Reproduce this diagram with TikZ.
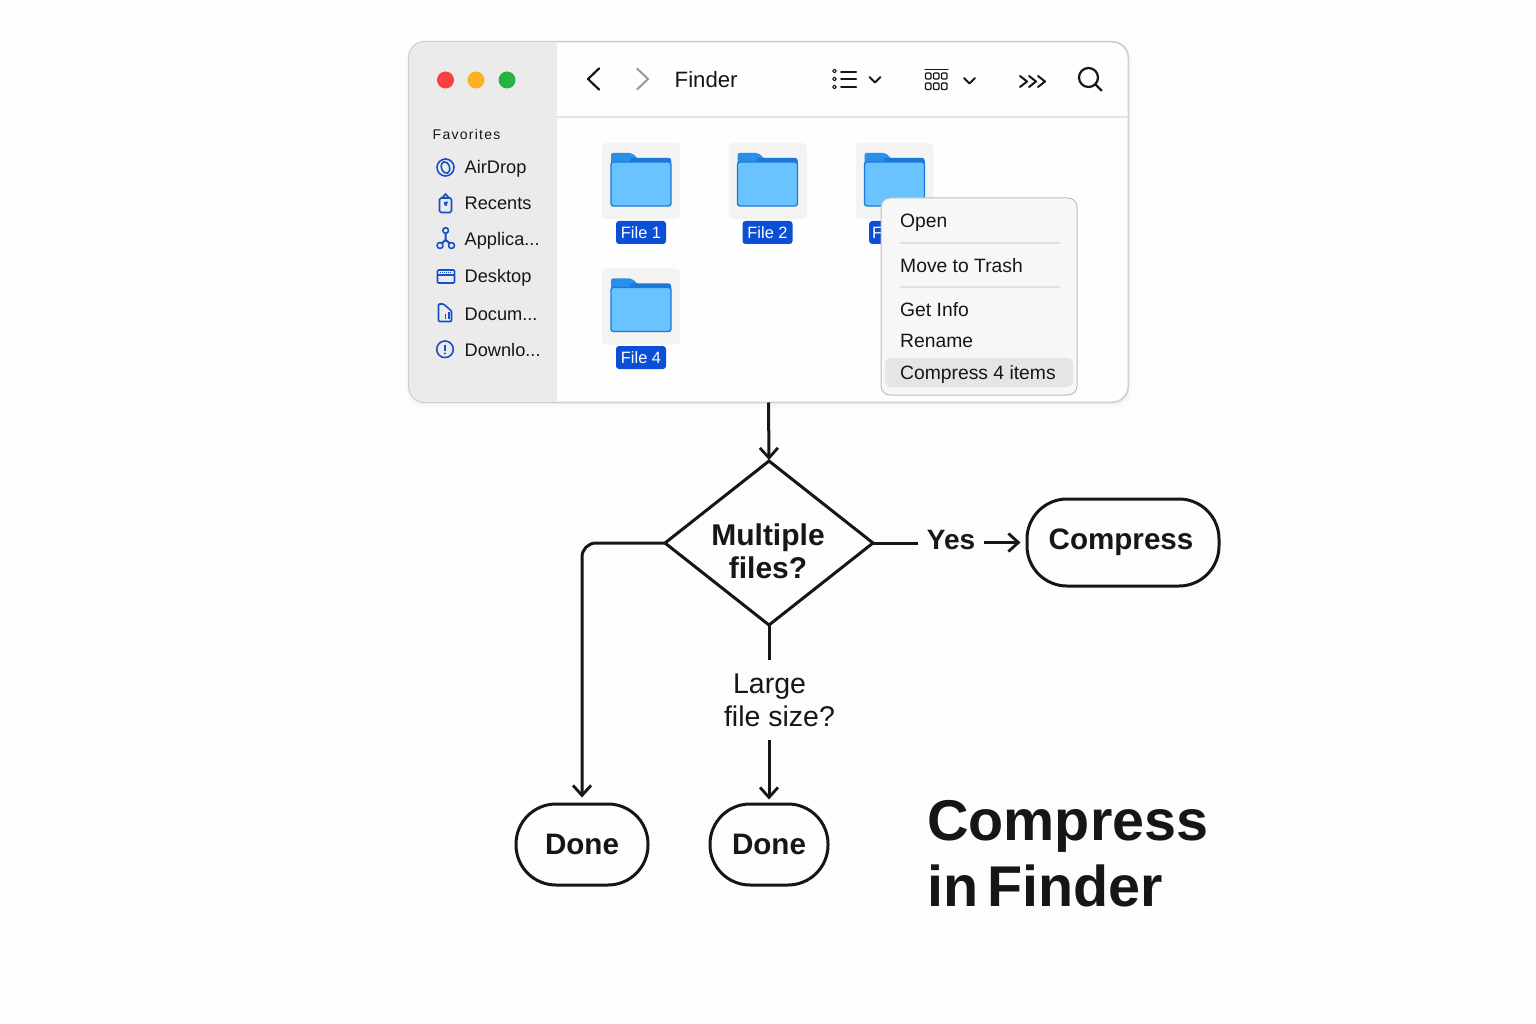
\documentclass[tikz,border=0pt]{standalone}
\usepackage{fontspec}
\setmainfont{Liberation Sans}
\newfontfamily\spacedfont[LetterSpace=9]{Liberation Sans}
\usetikzlibrary{arrows.meta,shapes.geometric,positioning,calc}
\definecolor{pagebg}{HTML}{FDFDFC}
\definecolor{sidebarbg}{HTML}{EBEBEB}
\definecolor{winedge}{HTML}{CECECE}
\definecolor{rulegrey}{HTML}{E4E4E4}
\definecolor{tilegrey}{HTML}{F3F3F3}
\definecolor{uiblue}{HTML}{0B4FD6}
\definecolor{iconblue}{HTML}{1650C8}
\definecolor{folderlight}{HTML}{69C3FF}
\definecolor{folderdark}{HTML}{2A8FE8}
\definecolor{folderedge}{HTML}{1B78D8}
\definecolor{inkdark}{HTML}{141618}
\newcommand{\fsz}[1]{\fontsize{#1}{#1}\selectfont}
\tikzset{
  x=1pt,y=-1pt,
  sidetext/.style={anchor=base west,inner sep=0pt,text=inkdark,font=\fsz{18.2}},
  menutext/.style={anchor=base west,inner sep=0pt,text=inkdark,font=\fsz{19.3}},
  filelabel/.style={fill=uiblue,text=white,rounded corners=3pt,inner sep=0pt,minimum height=23pt,font=\fsz{16.4}},
  flowline/.style={line width=3pt,draw=inkdark},
  flowarrow/.style={flowline,-{Straight Barb[length=10pt,width=18pt,line width=2.8pt]},shorten >=1pt},
  terminal/.style={draw=inkdark,line width=3pt,fill=pagebg,rounded corners=40pt,inner sep=0pt,text=inkdark,font=\bfseries\fsz{29.6}},
  icon/.style={draw=iconblue,line width=1.6pt,line join=round},
  toolicon/.style={draw=inkdark,line width=2pt,line cap=round,line join=round},
  folderpic/.pic={
    \fill[tilegrey,rounded corners=4pt] (0,0) rectangle (78,76);
    \fill[folderdark,rounded corners=2pt] (9,16) -- (9,10) -- (30,10) -- (36,16) -- (69,16) -- (69,24) -- (9,24) -- cycle;
    \fill[folderedge,rounded corners=2pt] (28,15) -- (69,15) -- (69,22) -- (28,22) -- cycle;
    \draw[folderedge,fill=folderlight,line width=1.3pt,rounded corners=2.5pt] (9,19) rectangle (69,63);
  }
}
\begin{document}
\begin{tikzpicture}
\useasboundingbox (0,0) rectangle (1536,1024);
\fill[pagebg] (0,0) rectangle (1536,1024);
% soft window shadow
\fill[black,opacity=.02,rounded corners=18pt] (406,42) rectangle (1131,407);
\fill[black,opacity=.03,rounded corners=17pt] (408,42) rectangle (1129,404);
% window
\node[draw=winedge,fill=white!60!pagebg,line width=1pt,rounded corners=16pt,minimum width=719pt,minimum height=360pt,inner sep=0pt] (window) at (768.5,222) {};
\begin{scope}
  \clip[rounded corners=16pt] (window.north west) rectangle (window.south east);
  \fill[sidebarbg] (409,42) rectangle (557,402);
  \draw[rulegrey,line width=1.2pt] (557,117) -- (1128,117);
\end{scope}
\draw[winedge,line width=1pt,rounded corners=16pt] (window.north west) rectangle (window.south east);
% traffic lights
\fill[fill={rgb,255:red,249;green,65;blue,68}] (445.5,80) circle (8.5);
\fill[fill={rgb,255:red,253;green,176;blue,34}] (476,80) circle (8.5);
\fill[fill={rgb,255:red,39;green,179;blue,63}] (507,80) circle (8.5);
% sidebar
\node[anchor=base west,inner sep=0pt,text=inkdark,font=\spacedfont\fsz{14}] (favorites) at (432.5,140) {Favorites};
\node[sidetext] (airdrop) at (464.5,174) {AirDrop};
\node[sidetext] (recents) at (464.5,210) {Recents};
\node[sidetext] (applica) at (464.5,246) {Applica...};
\node[sidetext] (desktop) at (464.5,283) {Desktop};
\node[sidetext] (docum) at (464.5,320) {Docum...};
\node[sidetext] (downlo) at (464.5,356) {Downlo...};
% sidebar icons
\draw[icon] (445.5,167.5) circle (8.5);
\draw[icon,rotate around={20:(445.5,167.5)}] (445.5,167.5) ellipse (4 and 6);
\draw[icon,rounded corners=1.5pt] (439.5,198) rectangle (451.5,212.5);
\draw[icon] (442,198) -- (445.5,194) -- (449,198);
\fill[iconblue] (444,202) -- (448,201.5) -- (446.5,206) -- (444.5,205.5) -- cycle;
\draw[icon] (445.7,230.5) circle (2.8) (440,245.5) circle (3) (451.5,245.5) circle (3);
\draw[icon,line width=2pt] (445.7,233) -- (445.7,240) (445.7,240) -- (441.5,243.5) (445.7,240) -- (450,243.5);
\draw[icon,rounded corners=1pt] (437.5,270) rectangle (454.5,283);
\draw[icon,line width=1.2pt] (437.5,275) -- (454.5,275);
\draw[icon,line width=1pt,dash pattern=on 1pt off 1pt] (440,272.5) -- (452,272.5);
\draw[icon,rounded corners=1pt] (438.5,304) -- (443.5,304) -- (451.5,311) -- (451.5,321.5) -- (438.5,321.5) -- cycle;
\draw[icon,line width=1.1pt] (449,312) -- (449,319);
\draw[icon,line width=1pt] (445,314) -- (445,319);
\draw[icon] (445,349.3) circle (8.3);
\draw[icon,line width=2pt] (445,344.5) -- (445,350.5);
\fill[iconblue] (445,353.5) circle (1.2);
% toolbar
\draw[toolicon,line width=2.2pt] (599,68.5) -- (588,79) -- (599,89.5);
\draw[toolicon,line width=2pt,draw=black!40] (637,68.5) -- (648,79) -- (637,89.5);
\node[anchor=base west,inner sep=0pt,text=inkdark,font=\fsz{22.2}] (findertitle) at (674.5,88) {Finder};
\draw[toolicon] (841,72) -- (856,72) (841,79.5) -- (856,79.5) (841,87) -- (856,87);
\draw[toolicon,line width=1.1pt] (834.5,71) circle (1.8) (834.5,79) circle (1.8) (834.5,87) circle (1.8);
\draw[toolicon] (869.5,77) -- (875,82.5) -- (880.5,77);
\draw[toolicon,line width=1.2pt] (925,69.5) -- (948,69.5);
\draw[toolicon,line width=1.2pt,rounded corners=1pt]
  (925.5,73) rectangle (931,79) (933.5,73) rectangle (939,79) (941.5,73) rectangle (947,79)
  (925.5,83) rectangle (931,89.5) (933.5,83) rectangle (939,89.5) (941.5,83) rectangle (947,89.5);
\draw[toolicon] (964,78) -- (969.5,83.5) -- (975,78);
\draw[toolicon] (1020,76) -- (1027,81.5) -- (1020,87) (1029,76) -- (1036,81.5) -- (1029,87) (1038,76) -- (1045,81.5) -- (1038,87);
\draw[toolicon,line width=2.2pt] (1088.5,77.5) circle (9.5);
\draw[toolicon,line width=2.2pt] (1095.5,84.5) -- (1101.5,90.5);
% folders
\pic at (602,143) {folderpic};
\pic at (728.5,143) {folderpic};
\pic at (855.5,143) {folderpic};
\pic at (602,268.5) {folderpic};
\node[filelabel,minimum width=50pt] (file1) at (641,232.5) {File 1};
\node[filelabel,minimum width=50pt] (file2) at (767.5,232.5) {File 2};
\node[filelabel,minimum width=30pt,anchor=west] (file3) at (869,232.5) {\hspace*{-14pt}F};
\node[filelabel,minimum width=50pt] (file4) at (641,357.5) {File 4};
% context menu
\node[draw=black!26,fill=black!3,line width=1pt,rounded corners=9pt,minimum width=196pt,minimum height=197pt,inner sep=0pt] (menu) at (979,296.5) {};
\fill[black!10,rounded corners=5pt] (885,358) rectangle (1073,387);
\draw[black!12,line width=1.2pt] (900,243) -- (1060,243) (900,287) -- (1060,287);
\node[menutext] (mopen) at (900,228) {Open};
\node[menutext] (mtrash) at (900,272.5) {Move to Trash};
\node[menutext] (minfo) at (900,316.5) {Get Info};
\node[menutext] (mrename) at (900,347.5) {Rename};
\node[menutext] (mcompress) at (900,379.5) {Compress 4 items};
% flowchart
\node[diamond,draw=inkdark,line width=3pt,fill=pagebg,aspect=1.268,minimum width=208pt,minimum height=164pt,inner sep=0pt,outer sep=0pt] (decide) at (769,543) {};
\node[inner sep=0pt,align=center,text=inkdark,font=\bfseries\fontsize{30}{33}\selectfont] (decidetext) at (768,551) {Multiple\\files?};
\node[terminal,minimum width=192pt,minimum height=87pt] (compress) at (1123,542.5) {\hspace*{-4pt}\raisebox{-2pt}{Compress}};
\node[terminal,minimum width=132pt,minimum height=81pt] (done1) at (582,844.5) {Done};
\node[terminal,minimum width=118pt,minimum height=81pt] (done2) at (769,844.5) {Done};
\node[inner xsep=9pt,inner ysep=0pt,text=inkdark,font=\bfseries\fsz{28}] (yes) at (951,540) {Yes};
\node[minimum height=80pt,inner sep=0pt,align=left,text=inkdark,font=\fontsize{28.5}{33}\selectfont] (large) at (779.5,700) {\hspace*{9pt}Large\\file size?};
\draw[flowarrow] (window.south) -- (decide.north);
\draw[flowline] (decide.east) -- (decide.east -| yes.west);
\draw[flowarrow,shorten >=5pt] (yes.east |- compress.west) -- (compress.west);
\draw[flowline] (decide.south) -- (decide.south |- large.north);
\draw[flowarrow,shorten >=3pt] (decide.south |- large.south) -- (done2.north);
\draw[flowarrow,rounded corners=14pt,shorten >=5pt] (decide.west) -| (done1.north);
\node[anchor=base west,inner sep=0pt,align=left,text=inkdark,font=\bfseries\fontsize{57.5}{66}\selectfont] (title) at (927,906) {Compress\\in\hspace*{-7pt} Finder};
\end{tikzpicture}
\end{document}
